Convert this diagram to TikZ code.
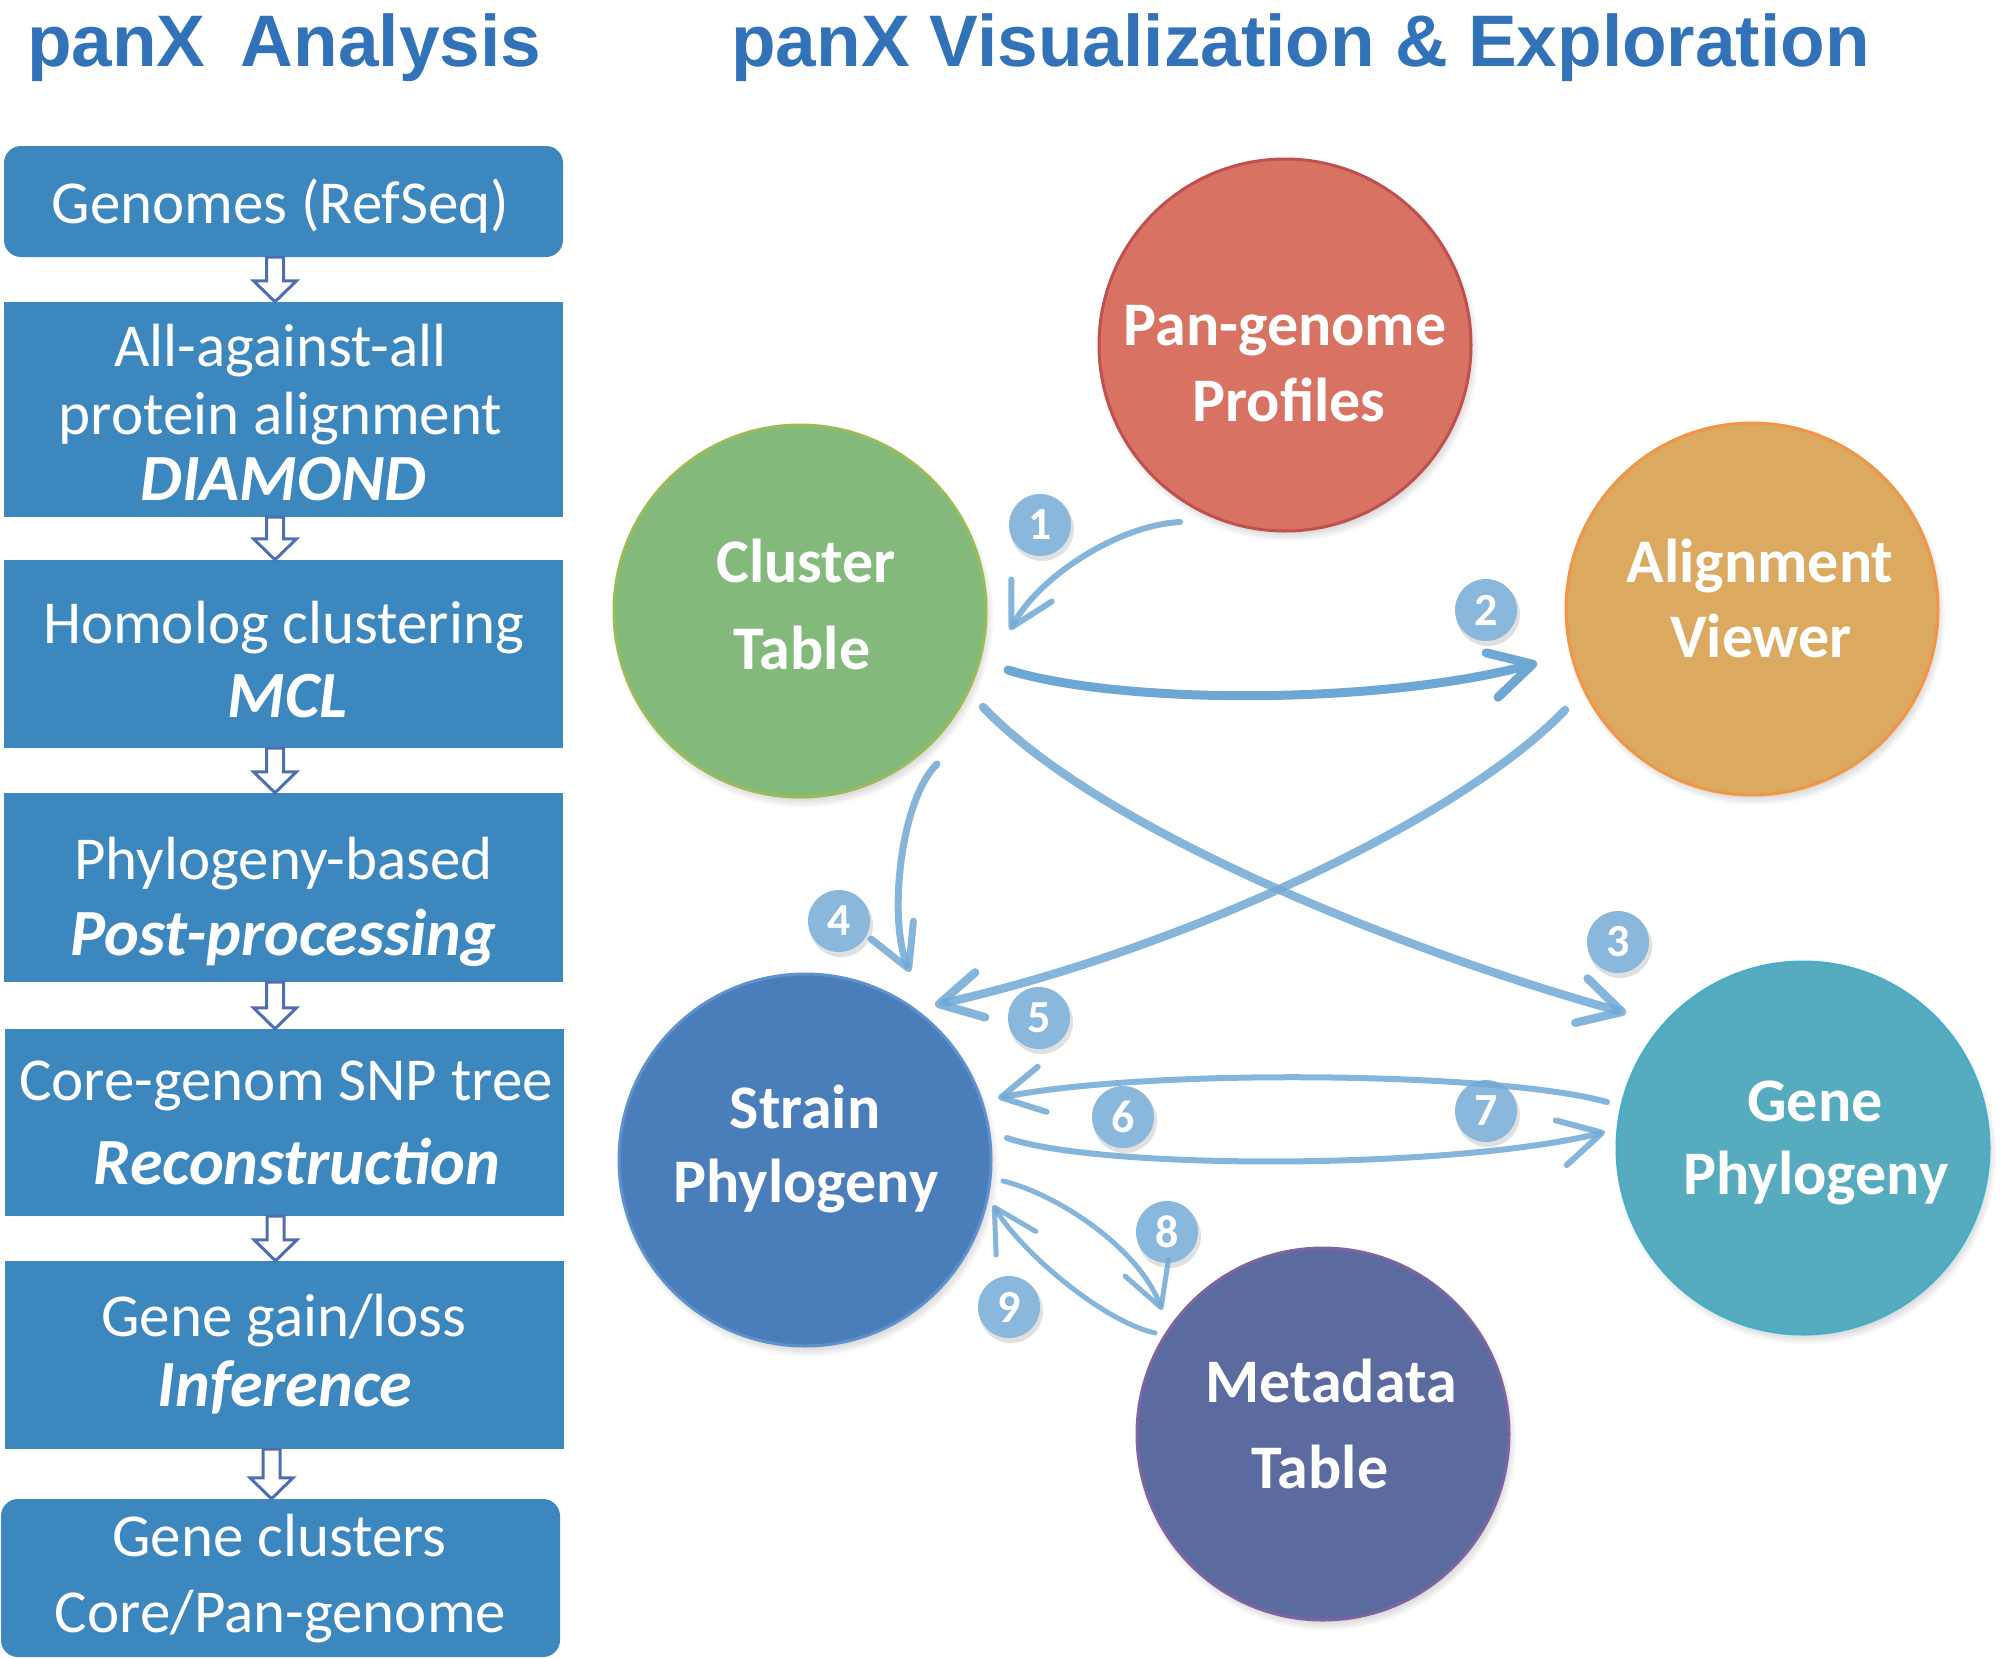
\documentclass[tikz,border=0pt]{standalone}
\usepackage{fontspec}
\setmainfont{Carlito}
\newfontfamily\titlefont{Liberation Sans}
\usetikzlibrary{calc,arrows.meta}
\definecolor{titleblue}{RGB}{50,114,185}
\definecolor{boxblue}{RGB}{60,135,190}
\definecolor{flowline}{RGB}{79,110,176}
\definecolor{arrblue}{RGB}{113,168,213}
\definecolor{arrdark}{RGB}{109,168,212}
\definecolor{badgeblue}{RGB}{138,183,220}
\definecolor{panfill}{RGB}{216,114,98}
\definecolor{panedge}{RGB}{192,80,77}
\definecolor{clfill}{RGB}{131,186,124}
\definecolor{cledge}{RGB}{155,187,89}
\definecolor{alfill}{RGB}{219,170,96}
\definecolor{aledge}{RGB}{240,150,70}
\definecolor{stfill}{RGB}{74,126,186}
\definecolor{stedge}{RGB}{95,145,205}
\definecolor{gnfill}{RGB}{86,172,190}
\definecolor{gnedge}{RGB}{75,172,198}
\definecolor{mtfill}{RGB}{91,106,159}
\definecolor{mtedge}{RGB}{128,100,162}
\tikzset{
  sqbox/.style={fill=boxblue, inner sep=0pt, minimum width=559pt},
  rbox/.style={sqbox, rounded corners=17pt},
  boxtxt/.style={text=white, font=\fontsize{61pt}{67pt}\selectfont, anchor=base, inner sep=0pt},
  boxem/.style={text=white, font=\fontsize{66pt}{70pt}\selectfont\bfseries\itshape, anchor=base, inner sep=0pt},
  flowarr/.style={draw=flowline, line width=3pt, fill=white, line join=miter},
  bubble/.style={circle, minimum size=372pt, line width=3pt, inner sep=0pt},
  ctext/.style={text=white, font=\fontsize{62pt}{70pt}\selectfont\bfseries, anchor=base, inner sep=0pt},
  badge/.style={circle, fill=badgeblue, minimum size=62pt, inner sep=0pt, text=white, font=\fontsize{46pt}{50pt}\selectfont\bfseries},
  conn/.style={draw=arrblue, draw opacity=0.85, line cap=round, -{Straight Barb[length=42pt,width=46pt,round]}},
  title/.style={text=titleblue, font=\titlefont\fontsize{73pt}{80pt}\selectfont\bfseries, anchor=base west, inner sep=0pt},
}
\newcommand{\flowarrow}[3]{%
  \draw[flowarr] ($(#1.south)+(#3-8.5,0)$) -- ($(#1.south)+(#3+8.5,0)$)
    -- ($(#1.south |- #2.north)+(#3+8.5,-21)$) -- ($(#1.south |- #2.north)+(#3+21.5,-21)$)
    -- ($(#1.south |- #2.north)+(#3,0)$) -- ($(#1.south |- #2.north)+(#3-21.5,-21)$)
    -- ($(#1.south |- #2.north)+(#3-8.5,-21)$) -- cycle;}
\newcommand{\softshade}[2]{%
  \foreach \k in {1,...,6} {\fill[black, opacity=0.03] ($(#1)+(3,6)$) circle[radius=#2-8+\k*2];}}
\newcommand{\mkbadge}[4]{%
  \fill[black, opacity=0.12] (#2+2,#3+4) circle[radius=32];
  \node[badge] (#1) at (#2,#3) {#4};}
\begin{document}
\begin{tikzpicture}[x=1pt,y=-1pt]
\useasboundingbox (0,0) rectangle (2005,1658);
% titles
\node[title] (t1) at (27,66) {panX\hspace{15pt} Analysis};
\node[title] (t2) at (731,66) {panX Visualization \& Exploration};
% left pipeline boxes
\node[rbox, minimum height=111pt] (b1) at (283.5,201.5) {};
\node[sqbox, minimum height=215pt] (b2) at (283.5,409.5) {};
\node[sqbox, minimum height=188pt] (b3) at (283.5,654) {};
\node[sqbox, minimum height=189pt] (b4) at (283.5,887.5) {};
\node[sqbox, minimum height=187pt] (b5) at (284,1122.5) {};
\node[sqbox, minimum height=188pt] (b6) at (284,1355) {};
\node[rbox, minimum height=158pt] (b7) at (280.5,1578) {};
\node[boxtxt] (b1a) at ($(b1.north)+(-3,78)$) {Genomes (RefSeq)};
\node[boxtxt] (b2a) at ($(b2.north)+(-3,65)$) {All-against-all};
\node[boxtxt] (b2b) at ($(b2.north)+(-3,133)$) {protein alignment};
\node[boxem] (b2c) at ($(b2.north)+(0,199)$) {DIAMOND};
\node[boxtxt] (b3a) at ($(b3.north)+(0,84)$) {Homolog clustering};
\node[boxem] (b3b) at ($(b3.north)+(4,158)$) {MCL};
\node[boxtxt] (b4a) at ($(b4.north)+(0,87)$) {Phylogeny-based};
\node[boxem] (b4b) at ($(b4.north)+(0,163)$) {Post-processing};
\node[boxtxt] (b5a) at ($(b5.north)+(2,72)$) {Core-genom SNP tree};
\node[boxem] (b5b) at ($(b5.north)+(13,156)$) {Reconstruction};
\node[boxtxt] (b6a) at ($(b6.north)+(0,76)$) {Gene gain/loss};
\node[boxem] (b6b) at ($(b6.north)+(1,146)$) {Inference};
\node[boxtxt] (b7a) at ($(b7.north)+(-1,58)$) {Gene clusters};
\node[boxtxt] (b7b) at ($(b7.north)+(0,134)$) {Core/Pan-genome};
\flowarrow{b1}{b2}{-8.5}
\flowarrow{b2}{b3}{-8.5}
\flowarrow{b3}{b4}{-8.5}
\flowarrow{b4}{b5}{-8.5}
\flowarrow{b5}{b6}{-8.5}
\flowarrow{b6}{b7}{-12.5}
% circles
\coordinate (pc) at (1285,345);
\coordinate (cc) at (800,611);
\coordinate (ac) at (1752,609);
\coordinate (sc) at (805,1160);
\coordinate (gc) at (1803,1148);
\coordinate (mc) at (1323,1434);
\softshade{pc}{186}
\softshade{cc}{186}
\softshade{ac}{186}
\softshade{sc}{186}
\softshade{gc}{186}
\softshade{mc}{186}
\node[bubble, fill=panfill, draw=panedge] (pan) at (pc) {};
\node[bubble, fill=clfill, draw=cledge] (clu) at (cc) {};
\node[bubble, fill=alfill, draw=aledge] (ali) at (ac) {};
\node[bubble, fill=stfill, draw=stedge] (str) at (sc) {};
\node[bubble, fill=gnfill, draw=gnedge] (gen) at (gc) {};
\node[bubble, fill=mtfill, draw=mtedge] (met) at (mc) {};
\node[ctext] (pan1) at ($(pan)+(0,0)$) {Pan-genome};
\node[ctext] (pan2) at ($(pan)+(4,76)$) {Profiles};
\node[ctext] (clu1) at ($(clu)+(6,-29)$) {Cluster};
\node[ctext] (clu2) at ($(clu)+(2,58)$) {Table};
\node[ctext] (ali1) at ($(ali)+(8,-27)$) {Alignment};
\node[ctext] (ali2) at ($(ali)+(9,48)$) {Viewer};
\node[ctext] (str1) at ($(str)+(0,-32)$) {Strain};
\node[ctext] (str2) at ($(str)+(1,42)$) {Phylogeny};
\node[ctext] (gen1) at ($(gen)+(12,-27)$) {Gene};
\node[ctext] (gen2) at ($(gen)+(13,46)$) {Phylogeny};
\node[ctext] (met1) at ($(met)+(8,-32)$) {Metadata};
\node[ctext] (met2) at ($(met)+(-3,54)$) {Table};
% badges
\mkbadge{n1}{1040}{525}{1}
\mkbadge{n2}{1486}{610}{2}
\mkbadge{n3}{1618}{942}{3}
\mkbadge{n4}{839}{921}{4}
\mkbadge{n5}{1039}{1018}{5}
\mkbadge{n6}{1123}{1117}{6}
\mkbadge{n7}{1486}{1111}{7}
\mkbadge{n8}{1167}{1232}{8}
\mkbadge{n9}{1009}{1307}{9}
% connector end points
\coordinate (c1s) at (1180,522); \coordinate (c1e) at (1010,630);
\coordinate (c2s) at (1008,670); \coordinate (c2e) at (1537,663);
\coordinate (c3s) at (983,707);  \coordinate (c3e) at (1626,1013);
\coordinate (c4s) at (937,764);  \coordinate (c4e) at (910,972);
\coordinate (c5s) at (1565,710); \coordinate (c5e) at (935,1005);
\coordinate (c6s) at (1607,1102); \coordinate (c6e) at (998,1098);
\coordinate (c7s) at (1007,1138); \coordinate (c7e) at (1605,1132);
\coordinate (c8s) at (1003,1181); \coordinate (c8e) at (1162,1310);
\coordinate (c9s) at (1155,1333); \coordinate (c9e) at (993,1205);
% connectors
\draw[conn, line width=6pt] (c1s) .. controls (1120,525) and (1040,575) .. (c1e);
\draw[conn, draw=arrdark, draw opacity=1, line width=9pt] (c2s) .. controls (1120,705) and (1380,705) .. (c2e);
\draw[conn, line width=8.5pt] (c3s) .. controls (1100,830) and (1400,950) .. (c3e);
\draw[conn, line width=7pt] (c4s) .. controls (900,800) and (888,920) .. (c4e);
\draw[conn, line width=8.5pt] (c5s) .. controls (1460,820) and (1180,950) .. (c5e);
\draw[conn, line width=6pt] (c6s) .. controls (1500,1072) and (1150,1068) .. (c6e);
\draw[conn, line width=6pt] (c7s) .. controls (1100,1170) and (1450,1170) .. (c7e);
\draw[conn, line width=5pt] (c8s) .. controls (1060,1195) and (1140,1250) .. (c8e);
\draw[conn, line width=5pt] (c9s) .. controls (1100,1320) and (1020,1250) .. (c9e);
\end{tikzpicture}
\end{document}
